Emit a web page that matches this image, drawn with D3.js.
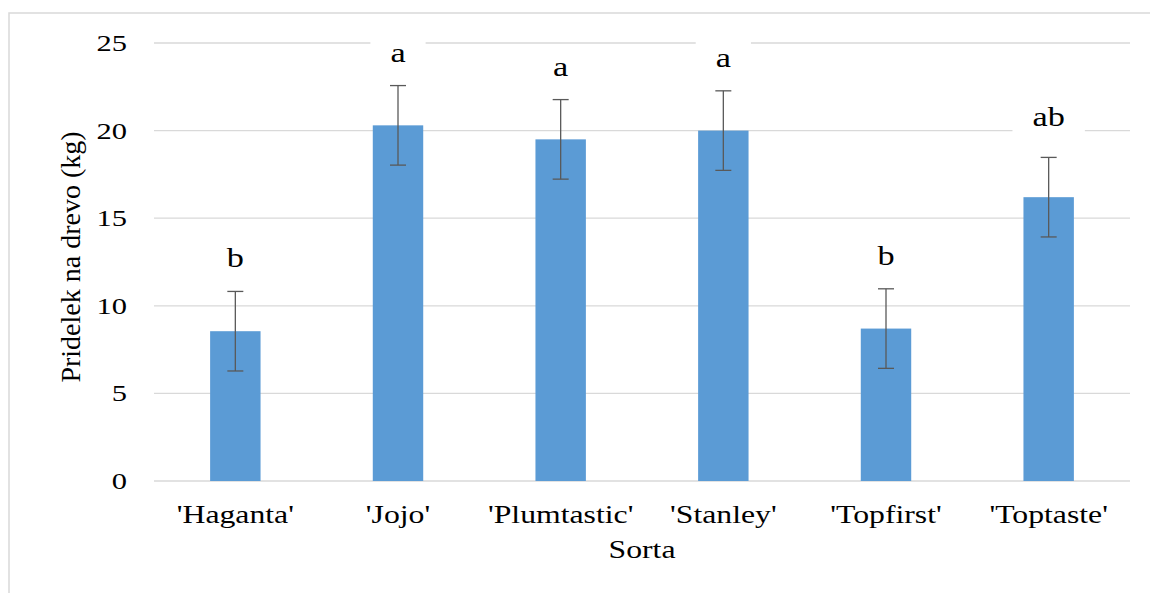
<!DOCTYPE html>
<html>
<head>
<meta charset="utf-8">
<script src="https://cdn.jsdelivr.net/npm/d3@7"></script>
<style>
  body { margin: 0; background: #fff; }
</style>
</head>
<body>
<svg id="chart" width="1150" height="593"></svg>
<script>
// data
var sorte = ["'Haganta'", "'Jojo'", "'Plumtastic'", "'Stanley'", "'Topfirst'", "'Toptaste'"];
var pridelek = [8.55, 20.3, 19.5, 20.0, 8.7, 16.2];
var napaka = [2.27, 2.27, 2.27, 2.27, 2.27, 2.27];
var crke = ["b", "a", "a", "a", "b", "ab"];
var yTicks = [0, 5, 10, 15, 20, 25];

var pisava = "'Liberation Serif', 'Times New Roman', serif";
var razteg = 1.27;   // the original picture is stretched horizontally
var svg = d3.select("#chart");

function napis(g, tx, ty, size, anchor, txt){
    return g.append("text")
	.attr("transform", "translate(" + tx + "," + ty + ") scale(" + razteg + ",1)")
	.attr("text-anchor", anchor)
	.attr("font-size", size)
	.style("font-family", pisava)
	.text(txt);
}

// outer frame (excel chart area)
svg.append("rect")
    .attr("x", 9).attr("y", 13)
    .attr("width", 1160).attr("height", 600)
    .attr("fill", "#fff")
    .attr("stroke", "#d9d9d9")
    .attr("stroke-width", 1.5);

var xleft = 154, xright = 1130, ytop = 43, ybottom = 481;

var x = d3.scaleBand()
    .domain(sorte)
    .range([xleft, xright])
    .paddingInner(0.69)
    .paddingOuter(0.345);

var y = d3.scaleLinear()
    .domain([0, 25])
    .range([ybottom, ytop]);

// gridlines
svg.append("g")
    .selectAll("line")
    .data(yTicks)
    .enter().append("line")
    .attr("x1", xleft).attr("x2", xright)
    .attr("y1", function(d){ return y(d); })
    .attr("y2", function(d){ return y(d); })
    .attr("stroke", "#d9d9d9")
    .attr("stroke-width", 1.3);

// y tick labels
var yt = svg.append("g");
yTicks.map(function(d){ napis(yt, 127, y(d) + 8, 24, "end", d); });

// bars
svg.append("g")
    .selectAll("rect")
    .data(pridelek)
    .enter().append("rect")
    .attr("x", function(d,i){ return x(sorte[i]); })
    .attr("y", function(d){ return y(d); })
    .attr("width", x.bandwidth())
    .attr("height", function(d){ return ybottom - y(d); })
    .attr("fill", "#5b9bd5");

// error bars
var eb = svg.append("g")
    .attr("stroke", "#595959")
    .attr("stroke-width", 1.3);
pridelek.map(function(d,i){
    var cx = x(sorte[i]) + x.bandwidth() / 2;
    eb.append("line")
	.attr("x1", cx).attr("x2", cx)
	.attr("y1", y(d + napaka[i])).attr("y2", y(d - napaka[i]));
    eb.append("line")
	.attr("x1", cx - 8).attr("x2", cx + 8)
	.attr("y1", y(d + napaka[i])).attr("y2", y(d + napaka[i]));
    eb.append("line")
	.attr("x1", cx - 8).attr("x2", cx + 8)
	.attr("y1", y(d - napaka[i])).attr("y2", y(d - napaka[i]));
});

// significance letters with white label boxes
var lab = svg.append("g");
pridelek.map(function(d,i){
    var cx = x(sorte[i]) + x.bandwidth() / 2;
    var by = y(d + napaka[i]) - 24 - (crke[i].length > 1 ? 7 : 0);
    var box = lab.append("rect").attr("fill", "#fff");
    var t = napis(lab, cx, by, 27, "middle", crke[i]);
    var w = t.node().getComputedTextLength() * razteg + 40;
    box.attr("x", cx - w / 2).attr("y", by - 30)
	.attr("width", w).attr("height", 38);
});

// category labels
var xt = svg.append("g");
sorte.map(function(d){ napis(xt, x(d) + x.bandwidth() / 2, 523, 25, "middle", d); });

// axis titles
napis(svg, (xleft + xright) / 2, 558, 25, "middle", "Sorta");

svg.append("text")
    .attr("transform", "translate(80,257) rotate(-90)")
    .attr("text-anchor", "middle")
    .attr("font-size", 28)
    .style("font-family", pisava)
    .text("Pridelek na drevo (kg)");
</script>
</body>
</html>
